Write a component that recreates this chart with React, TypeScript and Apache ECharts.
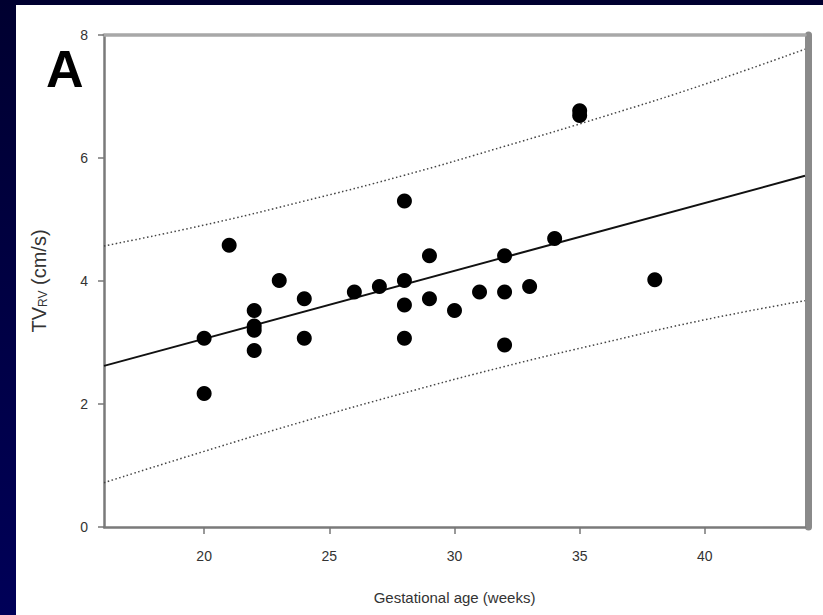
import React, { useEffect, useRef } from "react";
import * as echarts from "echarts";

const pointsX = [20, 20, 21, 22, 22, 22, 22, 23, 24, 24, 26, 27, 28, 28, 28, 28, 29, 29, 30, 31, 32, 32, 32, 33, 34, 35, 35, 38];
const pointsY = [3.07, 2.17, 4.58, 3.52, 3.2, 3.27, 2.87, 4.01, 3.71, 3.07, 3.82, 3.91, 5.3, 4.01, 3.61, 3.07, 4.41, 3.71, 3.52, 3.82, 4.41, 3.82, 2.96, 3.91, 4.69, 6.77, 6.69, 4.02];

const regX = [16, 44];
const regY = [2.62, 5.71];

const bandX = [16, 20, 24, 28, 32, 36, 40, 44];
const upperY = [4.57, 4.91, 5.3, 5.72, 6.19, 6.68, 7.2, 7.77];
const lowerY = [0.72, 1.23, 1.72, 2.18, 2.61, 3.0, 3.37, 3.68];

const xTicks = [20, 25, 30, 35, 40];

const FONT = "Arial, 'Liberation Sans', Helvetica, sans-serif";

export default function App() {
  const ref = useRef<HTMLDivElement>(null);
  useEffect(() => {
    if (!ref.current) return;
    const chart = echarts.init(ref.current, null, { renderer: "svg" });
    const zip = (xs: number[], ys: number[]) => xs.map((x, i) => [x, ys[i]]);
    chart.setOption({
      animation: false,
      backgroundColor: "#ffffff",
      textStyle: { fontFamily: FONT },
      grid: { left: 88, right: 18, top: 30, bottom: 88 },
      graphic: [
        {
          type: "text",
          left: 30,
          top: 38,
          style: { text: "A", fontSize: 52, lineHeight: 30, fontWeight: 900, fontFamily: FONT, fill: "#000" },
        },
      ],
      xAxis: [
        {
          type: "value",
          min: 16,
          max: 44,
          position: "bottom",
          splitLine: { show: false },
          axisLine: { onZero: false, lineStyle: { color: "#7a7a7a", width: 2.5 } },
          axisTick: { show: true, length: 7, customValues: xTicks, lineStyle: { color: "#777", width: 1.5 } },
          axisLabel: { customValues: xTicks, margin: 22, fontSize: 14, color: "#333", fontFamily: FONT },
          name: "Gestational age (weeks)",
          nameLocation: "middle",
          nameGap: 63,
          nameTextStyle: { fontSize: 15, color: "#333", fontFamily: FONT },
        },
        {
          type: "value",
          min: 16,
          max: 44,
          position: "top",
          splitLine: { show: false },
          axisLine: { onZero: false, lineStyle: { color: "#a8a8a8", width: 3.5 } },
          axisTick: { show: false },
          axisLabel: { show: false },
        },
      ],
      yAxis: [
        {
          type: "value",
          min: 0,
          max: 8,
          interval: 2,
          position: "left",
          splitLine: { show: false },
          axisLine: { show: true, onZero: false, lineStyle: { color: "#7a7a7a", width: 2.5 } },
          axisTick: { show: true, length: 6, lineStyle: { color: "#777", width: 1.5 } },
          axisLabel: { margin: 16, fontSize: 14, color: "#333", fontFamily: FONT },
          name: "{a|TV}{b|RV}{a| (cm/s)}",
          nameLocation: "middle",
          nameRotate: 90,
          nameGap: 55,
          nameTextStyle: {
            color: "#333",
            fontFamily: FONT,
            rich: {
              a: { fontSize: 20, color: "#333", fontFamily: FONT },
              b: { fontSize: 12, color: "#333", fontFamily: FONT, verticalAlign: "bottom", padding: [9, 0, 0, 0] },
            },
          },
        },
        {
          type: "value",
          min: 0,
          max: 8,
          position: "right",
          offset: 3.5,
          splitLine: { show: false },
          axisLine: { show: true, onZero: false, lineStyle: { color: "#8a8a8a", width: 7 } },
          axisTick: { show: false },
          axisLabel: { show: false },
        },
      ],
      series: [
        {
          type: "line",
          data: zip(bandX, upperY),
          smooth: true,
          symbol: "none",
          lineStyle: { color: "#444", width: 1.5, type: [1.5, 2.5] },
          z: 2,
        },
        {
          type: "line",
          data: zip(bandX, lowerY),
          smooth: true,
          symbol: "none",
          lineStyle: { color: "#444", width: 1.5, type: [1.5, 2.5] },
          z: 2,
        },
        {
          type: "line",
          data: zip(regX, regY),
          symbol: "none",
          lineStyle: { color: "#111", width: 2 },
          z: 3,
        },
        {
          type: "scatter",
          data: zip(pointsX, pointsY),
          symbol: "circle",
          symbolSize: 15,
          itemStyle: { color: "#000", opacity: 1 },
          z: 4,
        },
      ],
    });
    return () => chart.dispose();
  }, []);
  return (
    <div
      style={{
        position: "fixed",
        left: 0,
        top: 0,
        width: 823,
        height: 615,
        background: "linear-gradient(#000030, #000058)",
        overflow: "hidden",
      }}
    >
      <div ref={ref} style={{ position: "absolute", left: 16, top: 5, width: 807, height: 610 }} />
    </div>
  );
}
